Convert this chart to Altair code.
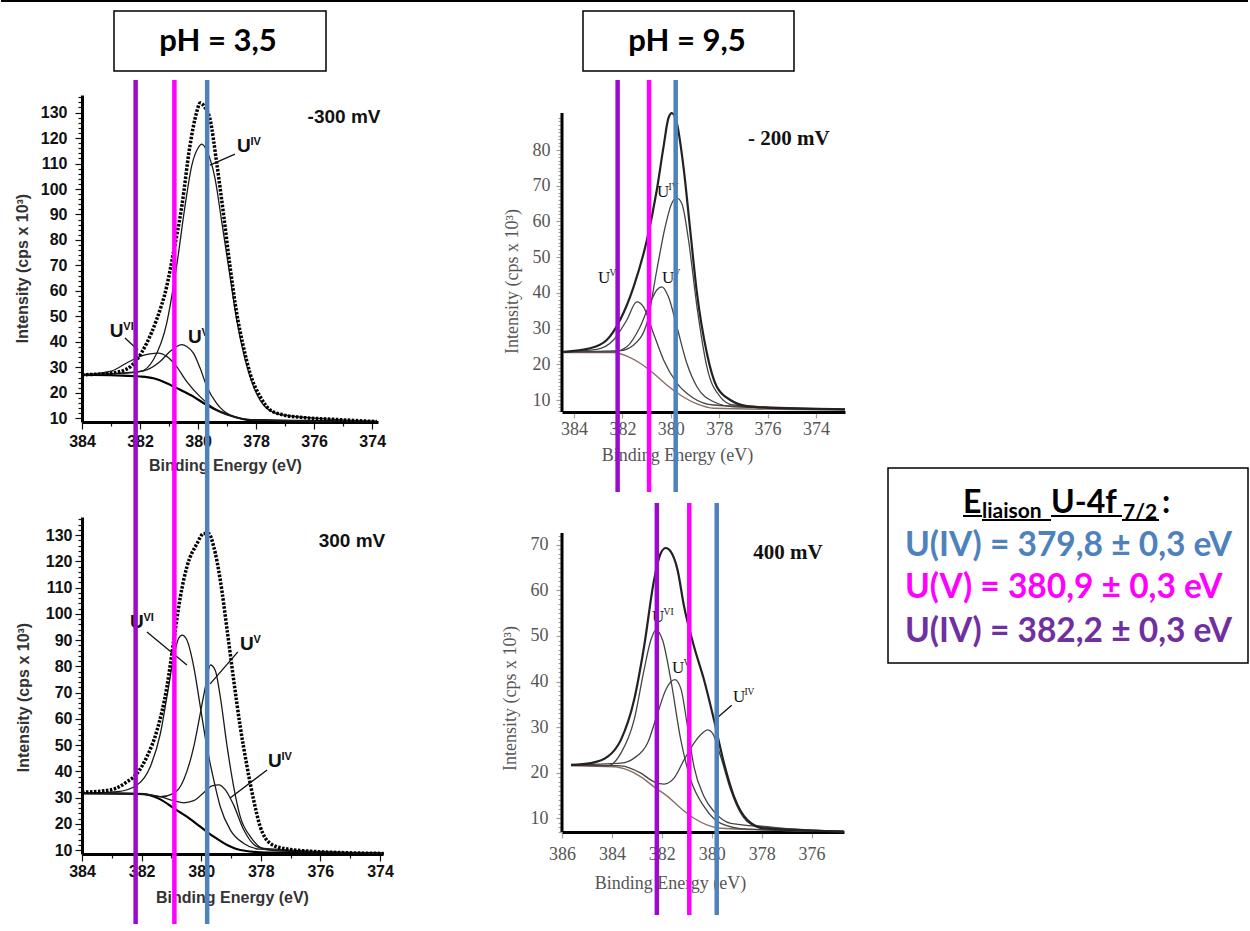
import altair as alt
import pandas as pd

# ---------------- spectra: (binding energy eV, intensity cps x 10^3) ----------------
# pH 3,5 / -300 mV
TL_ENVELOPE = [(384.0, 27.1), (383.03, 27.7), (382.46, 29.3), (382.11, 33.0), (381.77, 39.5), (381.43, 48.7),
               (381.08, 61.8), (380.85, 75.0), (380.56, 93.3), (380.28, 117.0), (380.05, 130.1), (379.93, 133.8),
               (379.76, 132.0), (379.59, 127.5), (379.36, 110.4), (379.13, 90.7), (378.90, 69.7), (378.67, 51.3),
               (378.44, 38.2), (378.21, 27.7), (377.86, 18.5), (377.52, 13.3), (377.06, 11.3), (376.48, 10.4),
               (375.33, 9.6), (373.84, 8.7)]
TL_U4 = [(384.0, 27.1), (383.03, 27.5), (382.0, 28.4), (381.54, 33.0), (381.08, 47.4), (380.74, 69.7),
         (380.45, 93.3), (380.22, 109.1), (379.99, 116.3), (379.87, 117.6), (379.70, 115.0), (379.41, 103.8),
         (379.18, 86.8), (378.90, 65.8), (378.67, 48.7), (378.38, 33.0), (378.09, 22.5), (377.63, 13.9),
         (377.06, 11.3), (375.33, 9.6), (373.84, 8.7)]
TL_U5 = [(384.0, 27.1), (382.46, 27.7), (381.77, 29.0), (381.31, 32.3), (380.97, 36.2), (380.74, 38.2),
         (380.56, 38.9), (380.39, 38.2), (380.16, 35.6), (379.93, 29.7), (379.70, 22.5), (379.36, 15.9),
         (378.90, 11.3), (378.32, 9.6), (373.84, 8.7)]
TL_U6 = [(384.0, 27.1), (383.03, 28.4), (382.46, 31.7), (382.0, 34.3), (381.66, 35.3), (381.37, 35.6),
         (381.08, 34.3), (380.74, 30.3), (380.39, 24.4), (379.93, 18.5), (379.36, 13.3), (378.78, 10.7),
         (378.09, 9.3), (373.84, 8.7)]
TL_BG = [(384.0, 27.1), (382.8, 26.8), (382.0, 26.4), (381.54, 25.7), (381.08, 23.8), (380.62, 21.2),
         (380.16, 18.5), (379.70, 15.2), (379.24, 12.6), (378.78, 10.7), (378.21, 9.3), (373.84, 8.7)]

# pH 3,5 / 300 mV
BL_ENVELOPE = [(384.0, 32.0), (383.05, 32.9), (382.49, 36.0), (382.15, 39.2), (381.82, 45.6), (381.48, 55.7),
               (381.15, 72.2), (380.92, 90.0), (380.70, 106.5), (380.48, 117.9), (380.14, 126.8), (379.92, 130.6),
               (379.75, 130.6), (379.58, 125.6), (379.36, 112.9), (379.13, 93.8), (378.91, 74.8), (378.69, 57.0),
               (378.46, 41.7), (378.24, 29.0), (378.02, 18.9), (377.68, 12.5), (377.23, 10.6), (376.11, 9.4),
               (373.88, 8.7)]
BL_U6 = [(384.0, 31.6), (382.83, 32.2), (382.15, 34.8), (381.71, 41.7), (381.37, 54.4), (381.15, 68.4),
         (380.92, 83.7), (380.76, 90.6), (380.64, 91.9), (380.48, 90.0), (380.25, 79.8), (380.03, 64.6),
         (379.81, 49.4), (379.58, 36.7), (379.36, 26.5), (379.02, 17.6), (378.57, 12.5), (378.02, 10.3),
         (373.88, 8.7)]
BL_U5 = [(384.0, 31.6), (382.04, 31.3), (381.37, 30.3), (380.92, 31.6), (380.59, 36.7), (380.25, 49.4),
         (380.03, 62.1), (379.86, 72.2), (379.69, 80.5), (379.53, 78.5), (379.36, 68.4), (379.13, 49.4),
         (378.91, 34.1), (378.69, 22.7), (378.35, 15.1), (377.90, 10.6), (373.88, 8.7)]
BL_U4 = [(384.0, 31.6), (381.93, 31.3), (381.37, 30.3), (380.92, 28.8), (380.59, 28.0), (380.25, 28.8),
         (379.92, 31.8), (379.64, 34.4), (379.41, 34.8), (379.19, 32.9), (378.91, 27.1), (378.57, 17.6),
         (378.13, 11.3), (377.46, 9.7), (373.88, 8.7)]
BL_BG = [(384.0, 31.6), (382.83, 31.6), (381.93, 31.3), (381.37, 29.3), (380.92, 25.9), (380.48, 22.7),
         (380.03, 18.9), (379.58, 15.1), (379.13, 11.9), (378.69, 10.0), (377.79, 9.0), (373.88, 8.7)]

# pH 9,5 / -200 mV
TR_ENVELOPE = [(384.44, 23.5), (383.34, 24.5), (382.65, 26.8), (382.1, 32.4), (381.54, 41.7), (380.99, 54.8),
               (380.58, 68.8), (380.3, 81.0), (380.1, 88.9), (379.96, 90.3), (379.75, 87.5), (379.48, 75.4),
               (379.2, 57.6), (378.92, 39.9), (378.51, 23.1), (378.1, 13.7), (377.54, 10.0), (376.86, 8.3),
               (375.48, 7.7), (372.8, 7.4)]
TR_U4 = [(384.44, 23.5), (382.1, 23.8), (381.54, 25.4), (380.99, 31.5), (380.58, 46.4), (380.23, 58.6),
         (379.96, 65.1), (379.75, 66.5), (379.54, 64.9), (379.27, 54.8), (378.92, 36.1), (378.51, 19.3),
         (377.96, 10.9), (377.41, 8.6), (372.8, 7.4)]
TR_U5 = [(384.44, 23.5), (382.37, 23.5), (381.82, 24.9), (381.27, 30.5), (380.86, 37.1), (380.58, 40.8),
         (380.37, 41.7), (380.1, 38.9), (379.75, 30.5), (379.34, 20.3), (378.92, 13.7), (378.23, 9.5),
         (377.41, 8.1), (372.8, 7.4)]
TR_U6 = [(384.44, 23.5), (383.06, 24.2), (382.37, 26.8), (381.82, 32.4), (381.41, 37.5), (381.13, 36.1),
         (380.72, 28.7), (380.3, 21.2), (379.75, 14.7), (379.06, 10.5), (378.23, 8.6), (372.8, 7.4)]
TR_BG = [(384.44, 23.3), (382.37, 23.3), (381.82, 22.3), (381.27, 20.3), (380.72, 17.5), (380.17, 14.2),
         (379.61, 11.4), (378.92, 8.9), (378.23, 7.7), (372.8, 7.2)]

# pH 9,5 / 400 mV
BR_ENVELOPE = [(385.64, 21.7), (384.84, 22.1), (384.17, 23.5), (383.64, 27.2), (383.11, 36.0), (382.71, 47.7),
               (382.31, 62.3), (382.04, 68.2), (381.84, 69.3), (381.64, 68.5), (381.37, 64.5), (381.11, 56.5),
               (380.71, 47.7), (380.31, 40.4), (379.91, 31.6), (379.51, 22.1), (379.11, 14.8), (378.57, 9.6),
               (377.91, 7.8), (374.71, 7.1)]
BR_U6 = [(385.64, 21.7), (384.17, 21.5), (383.64, 24.3), (383.11, 31.6), (382.71, 42.6), (382.44, 49.1),
         (382.24, 51.3), (381.97, 49.1), (381.64, 40.4), (381.24, 27.2), (380.84, 18.4), (380.31, 12.6),
         (379.64, 8.9), (378.57, 7.6), (374.71, 7.1)]
BR_U5 = [(385.64, 21.7), (383.64, 22.1), (383.11, 23.2), (382.57, 26.5), (382.17, 33.0), (381.84, 38.2),
         (381.48, 40.4), (381.24, 38.5), (380.97, 30.1), (380.71, 21.3), (380.31, 14.8), (379.91, 11.5),
         (379.24, 8.9), (374.71, 7.1)]
BR_U4 = [(385.64, 21.7), (383.64, 21.5), (382.84, 19.9), (382.31, 18.0), (381.91, 17.5), (381.51, 18.8),
         (381.11, 22.8), (380.71, 26.5), (380.37, 28.7), (380.17, 29.4), (379.97, 28.7), (379.64, 23.5),
         (379.24, 16.2), (378.84, 11.1), (378.31, 8.5), (374.71, 7.1)]
BR_BG = [(385.64, 21.5), (383.91, 21.3), (383.37, 20.6), (382.84, 19.1), (382.31, 16.9), (381.77, 14.8),
         (381.24, 12.2), (380.71, 10.0), (380.17, 8.5), (379.64, 7.8), (374.71, 7.1)]

# ---------------- reference binding energies and texts ----------------
SPECIES = ["U(IV)", "U(V)", "U(VI)"]
SPECIES_ENERGY = [379.8, 380.9, 382.2]
SPECIES_COLOR = ["#4F81BD", "#FF00FF", "#9A0BCC"]
LEGEND_LINES = ["U(IV) = 379,8 ± 0,3 eV", "U(V) = 380,9 ± 0,3 eV", "U(IV) = 382,2 ± 0,3 eV"]
LEGEND_COLORS = ["#4F81BD", "#FF00FF", "#7030A0"]
PH_LABELS = ["pH = 3,5", "pH = 9,5"]
POTENTIALS = ["-300 mV", "300 mV", "- 200 mV", "400 mV"]
X_TITLE = "Binding Energy (eV)"
Y_TITLE = "Intensity (cps x 10³)"

ONE = alt.Data(values=[{}])

SANS = dict(font="Liberation Sans", lab_size=16, lab_weight="bold", lab_color="#111111", ttl_size=16,
            ttl_weight="bold", ttl_color="#333333", tick_major=7, tick_minor=4, tick_color="#111111",
            env_color="black", env_width=3.5, env_dash=[2.5, 1.5], comp_color="#1a1a1a", comp_width=1.3,
            bg_color="black", bg_width=2.2, u_size=19, u_weight="bold", sup_size=11, sup_dx=13.5, sup_dy=-7,
            pot_size=19)
SERIF = dict(font="Liberation Serif", lab_size=18, lab_weight="normal", lab_color="#555555", ttl_size=18,
             ttl_weight="normal", ttl_color="#555555", tick_major=6, tick_minor=4, tick_color="#a0a0a0",
             env_color="#222222", env_width=2.2, env_dash=None, comp_color="#444444", comp_width=1.3,
             bg_color="#8c6d62", bg_width=1.4, u_size=17, u_weight="normal", sup_size=9.5, sup_dx=11.5, sup_dy=-7,
             pot_size=21)


def spectra(env, u4, u5, u6, bg):
    rows = []
    for name, pts in (("envelope", env), ("U(IV)", u4), ("U(V)", u5), ("U(VI)", u6), ("background", bg)):
        rows += [{"E": e, "I": i, "curve": name} for e, i in pts]
    return pd.DataFrame(rows)


def panel(df, xdom, ydom, w, h, st, xvals, xmajor, yvals, ymajor, xt, yt, xpad, ypad,
          labels, leaders, pot, pot_at, rules, axis_top=None, extra=()):
    xsc = alt.Scale(domain=xdom, nice=False, zero=False)
    ysc = alt.Scale(domain=ydom, nice=False, zero=False)
    common = dict(labelFont=st["font"], labelFontSize=st["lab_size"], labelFontWeight=st["lab_weight"],
                  labelColor=st["lab_color"], labelOverlap=False, labelFlush=False, grid=False, format="d",
                  tickColor=st["tick_color"], tickWidth=1.2, domainColor="black", domainWidth=3,
                  titleFont=st["font"], titleFontSize=st["ttl_size"], titleFontWeight=st["ttl_weight"],
                  titleColor=st["ttl_color"], titleAlign="center", titleBaseline="middle")
    xaxis = alt.Axis(values=xvals, labelExpr=f"datum.value % {xmajor} === 0 ? datum.label : ''",
                     tickSize={"condition": {"test": f"datum.value % {xmajor} === 0", "value": st["tick_major"]},
                               "value": st["tick_minor"]},
                     labelPadding=xpad, title=X_TITLE, titleX=xt[0], titleY=xt[1], titleAngle=0, **common)
    yaxis = alt.Axis(values=yvals, labelExpr=f"datum.value % {ymajor} === 0 ? datum.label : ''",
                     tickSize={"condition": {"test": f"datum.value % {ymajor} === 0", "value": st["tick_major"]},
                               "value": st["tick_minor"]},
                     labelPadding=ypad, title=Y_TITLE, titleX=yt[0], titleY=yt[1], titleAngle=270,
                     domain=axis_top is None, **common)

    def X():
        return alt.X("E:Q", scale=xsc, axis=xaxis)

    def Y():
        return alt.Y("I:Q", scale=ysc, axis=yaxis)

    base = alt.Chart(df)
    env_kw = dict(interpolate="monotone", color=st["env_color"], strokeWidth=st["env_width"])
    if st["env_dash"]:
        env_kw["strokeDash"] = st["env_dash"]
    layers = [
        base.transform_filter(alt.datum.curve == "background").mark_line(
            interpolate="monotone", color=st["bg_color"], strokeWidth=st["bg_width"]).encode(x=X(), y=Y()),
        base.transform_filter(alt.FieldOneOfPredicate(field="curve", oneOf=["U(IV)", "U(V)", "U(VI)"])).mark_line(
            interpolate="monotone", color=st["comp_color"], strokeWidth=st["comp_width"]).encode(
            x=X(), y=Y(), detail="curve:N"),
        base.transform_filter(alt.datum.curve == "envelope").mark_line(**env_kw).encode(x=X(), y=Y()),
    ]
    if axis_top is not None:
        layers.append(alt.Chart(ONE).mark_rule(color="black", strokeWidth=3).encode(
            x=alt.value(0), y=alt.value(axis_top), y2=alt.value(h)))
    lab_df = pd.DataFrame(labels, columns=["E", "I", "sup"])
    tfont = dict(font=st["font"], fontWeight=st["u_weight"], color="#111111", align="left", baseline="alphabetic")
    layers.append(alt.Chart(lab_df).mark_text(text="U", fontSize=st["u_size"], **tfont).encode(x=X(), y=Y()))
    layers.append(alt.Chart(lab_df).mark_text(fontSize=st["sup_size"], dx=st["sup_dx"], dy=st["sup_dy"],
                                              **tfont).encode(x=X(), y=Y(), text="sup:N"))
    if leaders:
        ld = pd.DataFrame(leaders, columns=["E", "I", "E2", "I2"])
        layers.append(alt.Chart(ld).mark_rule(color="#111111", strokeWidth=1.3).encode(
            x=X(), y=Y(), x2="E2:Q", y2="I2:Q"))
    pdf = pd.DataFrame([{"E": pot_at[0], "I": pot_at[1]}])
    layers.append(alt.Chart(pdf).mark_text(text=pot, font=st["font"], fontSize=st["pot_size"], fontWeight="bold",
                                           color="#111111", align="center", baseline="middle").encode(x=X(), y=Y()))
    sdf = pd.DataFrame({"E": SPECIES_ENERGY, "species": SPECIES})
    if rules is not None:
        layers.append(alt.Chart(sdf).mark_rule(strokeWidth=4.5).encode(
            x=X(), y=alt.value(rules[0]), y2=alt.value(rules[1]),
            color=alt.Color("species:N", scale=alt.Scale(domain=SPECIES, range=SPECIES_COLOR), legend=None)))
    layers += list(extra)
    return alt.layer(*layers).properties(width=w, height=h)


def header(text, x0, x1, cx):
    box = alt.Chart(ONE).mark_rect(fill="white", stroke="black", strokeWidth=1.5).encode(
        x=alt.value(x0), x2=alt.value(x1), y=alt.value(-84), y2=alt.value(-24))
    txt = alt.Chart(ONE).mark_text(text=text, font="Lato", fontSize=31, fontWeight="bold", color="black",
                                   align="center", baseline="middle").encode(x=alt.value(cx), y=alt.value(-53))
    return [box, txt]


top_line = alt.Chart(ONE).mark_rule(color="black", strokeWidth=2).encode(
    x=alt.value(-81), x2=alt.value(1166), y=alt.value(-94))

# legend box (drawn inside the lower right cell)
legend = [alt.Chart(ONE).mark_rect(fill="white", stroke="black", strokeWidth=1.5).encode(
    x=alt.value(326), x2=alt.value(686), y=alt.value(-49), y2=alt.value(146))]
for k, (txt, col) in enumerate(zip(LEGEND_LINES, LEGEND_COLORS)):
    legend.append(alt.Chart(ONE).mark_text(text=txt, font="Lato", fontSize=33.5, fontWeight="bold", color=col,
                                           align="left", baseline="alphabetic").encode(
        x=alt.value(343), y=alt.value([39, 81, 125][k])))
for txt, xx, yy, fs in (("E", 401, -4, 32), ("liaison", 420, 1, 21), ("U-4f", 489, -4, 32),
                        ("7/2", 561, 2, 21), (":", 600, -4, 32)):
    legend.append(alt.Chart(ONE).mark_text(text=txt, font="Lato", fontSize=fs, fontWeight="bold", color="black",
                                           align="left", baseline="alphabetic").encode(
        x=alt.value(xx), y=alt.value(yy)))
for xa, xb, yy in ((401, 420, -1), (420, 489, 3), (489, 560, -1), (560, 597, 3)):
    legend.append(alt.Chart(ONE).mark_rule(color="black", strokeWidth=2).encode(
        x=alt.value(xa), x2=alt.value(xb), y=alt.value(yy)))

left_x = [384 - 0.5 * k for k in range(21)]

tl = panel(spectra(TL_ENVELOPE, TL_U4, TL_U5, TL_U6, TL_BG), [384.0, 373.8], [8.55, 136.9], 296, 327, SANS,
           left_x, 2, list(range(10, 137, 2)), 10, (143, 43), (-60, 173), 4, 8,
           [(378.66, 114.5, "IV"), (383.04, 41.9, "VI"), (380.35, 39.6, "V")],
           [(378.73, 113.7, 379.59, 109.4), (382.52, 41.5, 382.07, 36.8)],
           POTENTIALS[0], (374.97, 128.3), None, extra=[top_line] + header(PH_LABELS[0], 32, 244, 136))

bl = panel(spectra(BL_ENVELOPE, BL_U4, BL_U5, BL_U6, BL_BG), [384.0, 373.9], [8.48, 136.9], 301, 337, SANS,
           left_x, 2, list(range(10, 137, 2)), 10, (150, 43), (-59, 180), 2, 3,
           [(382.39, 94.6, "VI"), (378.70, 86.2, "V"), (377.76, 41.6, "IV")],
           [(381.82, 93.1, 380.48, 80.5), (378.77, 85.5, 379.70, 73.3), (377.79, 40.5, 379.03, 29.8)],
           POTENTIALS[1], (374.94, 127.8), (-437, 407))

tr = panel(spectra(TR_ENVELOPE, TR_U4, TR_U5, TR_U6, TR_BG), [384.5, 372.8], [6.64, 95.4], 283, 317, SERIF,
           [384, 382, 380, 378, 376, 374], 2, list(range(7, 90)), 10, (115, 43), (-50, 186), 2, 6,
           [(380.57, 66.8, "IV"), (383.01, 42.8, "VI"), (380.37, 42.8, "V")],
           [], POTENTIALS[2], (375.12, 83.1), (-15, 397), axis_top=18, extra=header(PH_LABELS[1], 21, 232, 125))

br = panel(spectra(BR_ENVELOPE, BR_U4, BR_U5, BR_U6, BR_BG), [386.0, 374.7], [6.99, 76.1], 282, 315, SERIF,
           [386, 384, 382, 380, 378, 376], 2, list(range(7, 73)), 10, (108, 51), (-52, 181), 7, 8,
           [(382.39, 53.1, "VI"), (381.59, 41.9, "V"), (379.15, 35.5, "IV")],
           [(379.2, 34.8, 379.87, 31.6)], POTENTIALS[3], (376.95, 68.2), (-14, 398), axis_top=16,
           extra=legend)

chart = alt.ConcatChart(concat=[tl, tr, bl, br], columns=2, spacing={"row": 85, "column": 179},
                        bounds="flush", align="all", padding=0).resolve_scale(
    x="independent", y="independent").configure_view(stroke=None)

chart.save("out.html", embed_options={"renderer": "svg", "actions": False})
